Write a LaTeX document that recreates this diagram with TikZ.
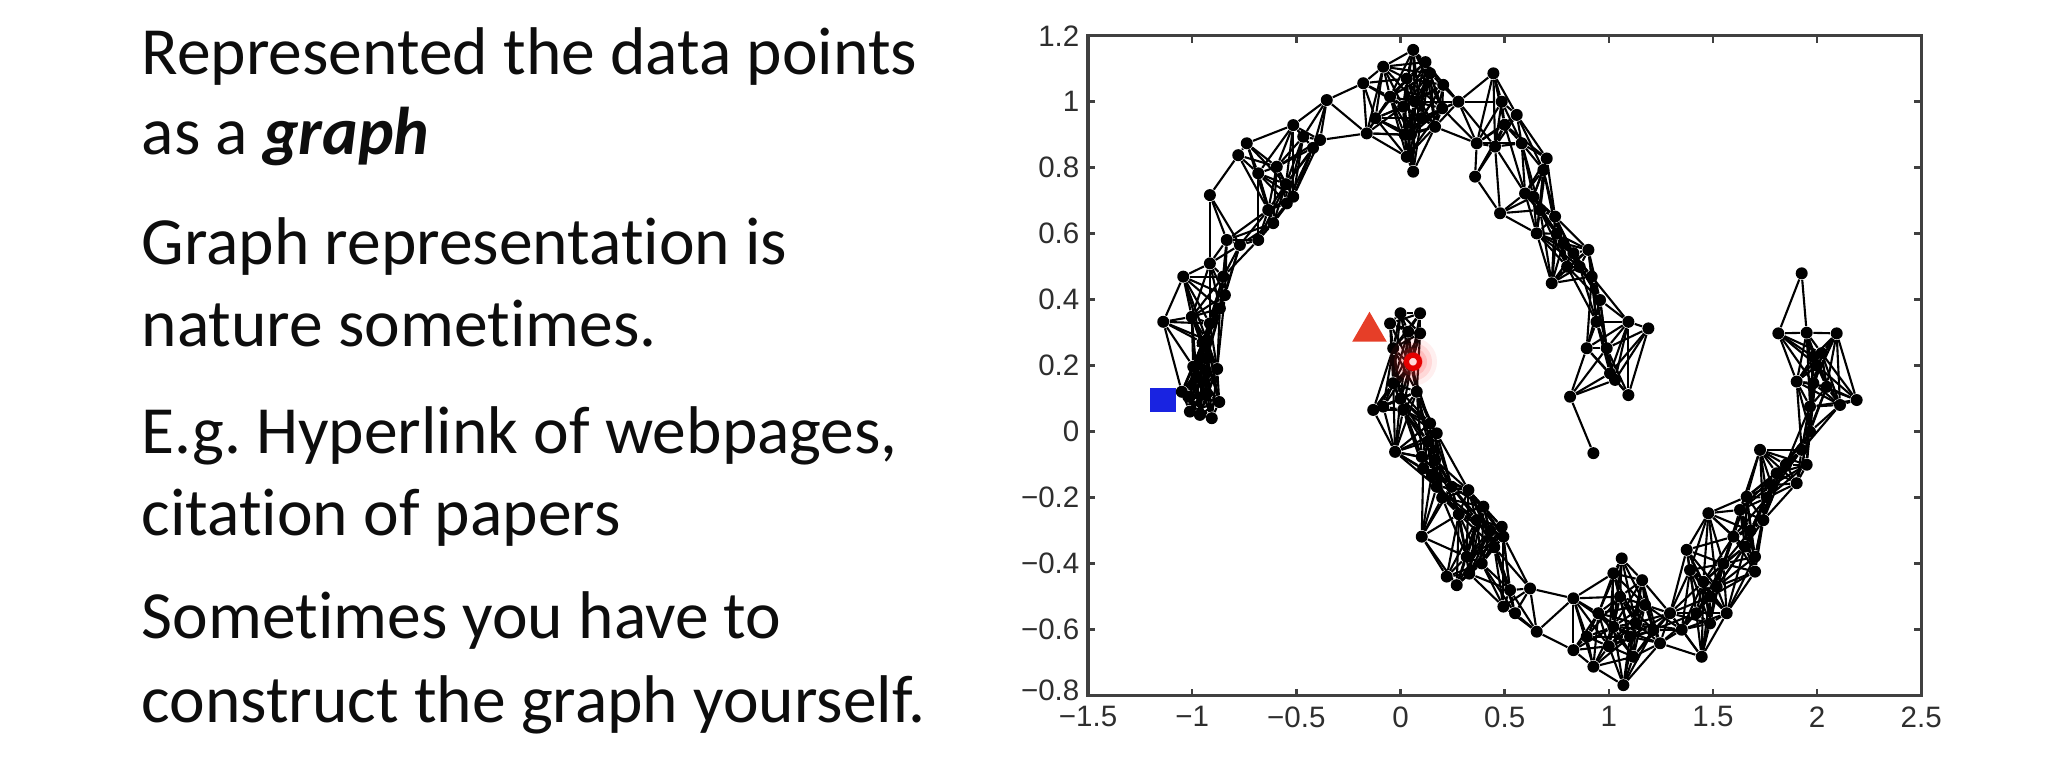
\documentclass[tikz,border=0pt]{standalone}
\usepackage{fontspec}
\setmainfont{Carlito}[Ligatures={NoCommon}]
\newfontfamily\axisfont{Liberation Sans}
\usetikzlibrary{shapes.geometric}
\definecolor{trired}{RGB}{230,62,40}
\definecolor{sqblue}{RGB}{25,35,225}
\frenchspacing
\tikzset{
  dot/.style={circle, fill=black, inner sep=0pt, minimum size=0.12cm},
  edge/.style={black, line width=0.6pt},
  txt/.style={anchor=base west, inner sep=0pt, text=black!95, font=\fontsize{19.2}{23.3}\selectfont},
  ticklab/.style={font=\axisfont\fontsize{8.4}{10}\selectfont, inner sep=0pt, text=black!82},
  frame/.style={draw=black!75, line width=0.9pt},
  tickmark/.style={draw=black!75, line width=0.7pt},
}
\newcommand\makemoon[3]{%
  \foreach \xx/\yy [count=\i] in {#3} {
    \node[dot] (#1\i) at (\xx,\yy) {};
    \expandafter\xdef\csname #1x\i\endcsname{\xx}%
    \expandafter\xdef\csname #1y\i\endcsname{\yy}%
    \xdef\nmoon{\i}%
  }
  \foreach \i in {1,...,\nmoon} {
    \foreach \k in {1,...,12} {
      \pgfmathtruncatemacro\j{\i+\k}
      \ifnum\j>\nmoon\relax\else
        \edef\xa{\csname #1x\i\endcsname}%
        \edef\ya{\csname #1y\i\endcsname}%
        \edef\xb{\csname #1x\j\endcsname}%
        \edef\yb{\csname #1y\j\endcsname}%
        \pgfmathsetmacro\dd{veclen((\xa)-(\xb),(\ya)-(\yb))}%
        \ifdim\dd pt<#2pt \draw[edge] (#1\i) -- (#1\j);\fi
      \fi
    }
  }
}
\begin{document}
\begin{tikzpicture}
\useasboundingbox[fill=white] (0,0) rectangle (20.48,-7.64);
% left text
\node[txt] (l1) at (1.41,-0.74) {Represented the data points};
\node[txt] (l2) at (1.41,-1.54) {as a \textbf{\textit{graph}}};
\node[txt] (l3) at (1.41,-2.64) {Graph representation is};
\node[txt] (l4) at (1.41,-3.46) {nature sometimes.};
\node[txt] (l5) at (1.41,-4.53) {E.g. Hyperlink of webpages,};
\node[txt] (l6) at (1.41,-5.35) {citation of papers};
\node[txt] (l7) at (1.41,-6.38) {Sometimes you have to};
\node[txt] (l8) at (1.41,-7.22) {construct the graph yourself.};
% plot
\begin{scope}[shift={(14.005,-4.317)}, x=2.083cm, y=3.3cm]
  \draw[frame] (-1.5,-0.8) rectangle (2.5,1.2);
  \foreach \t in {-1,-0.5,0,0.5,1,1.5,2} {
    \draw[tickmark] (\t,-0.8) -- ++(0,0.07cm);
    \draw[tickmark] (\t,1.2) -- ++(0,-0.07cm);
  }
  \foreach \t in {-0.6,-0.4,-0.2,0,0.2,0.4,0.6,0.8,1} {
    \draw[tickmark] (-1.5,\t) -- ++(0.07cm,0);
    \draw[tickmark] (2.5,\t) -- ++(-0.07cm,0);
  }
  \foreach \t/\lab in {-1.5/−1.5,-1/−1,-0.5/−0.5,0/0,0.5/0.5,1/1,1.5/1.5,2/2,2.5/2.5}
    \node[ticklab, anchor=north] (xl\t) at ([yshift=-0.1cm]\t,-0.8) {\lab};
  \foreach \t/\lab in {-0.6/−0.6,-0.4/−0.4,-0.2/−0.2,0/0,0.2/0.2,0.4/0.4,0.6/0.6,0.8/0.8,1/1,1.2/1.2}
    \node[ticklab, anchor=east] (yl\t) at ([xshift=-0.08cm]-1.5,\t) {\lab};
  \node[ticklab, anchor=east] (ylm8) at ([xshift=-0.08cm,yshift=0.05cm]-1.5,-0.8) {−0.8};
  % markers under graph
  \node[rectangle, fill=sqblue, minimum width=0.26cm, minimum height=0.24cm, inner sep=0pt] (sq) at (-1.14,0.097) {};
  \node[regular polygon, regular polygon sides=3, fill=trired, inner sep=0pt, minimum size=0.4cm] (tri) at (-0.149,0.303) {};
  % upper moon
  \makemoon{u}{0.23}{-0.906/0.041, -0.963/0.051, -1.011/0.061, -0.87/0.09, -1.019/0.106, -1.05/0.121, -0.930/0.116, -0.978/0.167, -0.88/0.19, -0.995/0.197, -0.930/0.222, -0.95/0.27, -0.930/0.278, -0.915/0.328, -1.002/0.348, -1.139/0.333, -0.867/0.374, -0.843/0.414, -1.043/0.470, -0.851/0.470, -0.915/0.510, -0.834/0.581, -0.771/0.566, -0.683/0.581, -0.611/0.632, -0.915/0.717, -0.635/0.672, -0.546/0.692, -0.515/0.712, -0.55/0.75, -0.683/0.783, -0.594/0.803, -0.779/0.838, -0.738/0.874, -0.42/0.86, -0.515/0.929, -0.467/0.894, -0.386/0.884, -0.354/1.005, -0.179/1.056, -0.162/0.904, -0.12/0.95, -0.083/1.106, -0.05/1.015, 0.013/0.985, 0.03/1.07, 0.061/1.157, 0.07/1.0, 0.02/0.9, 0.05/0.9, 0.03/0.833, 0.061/0.788, 0.1/0.95, 0.12/1.12, 0.142/1.086, 0.205/1.051, 0.166/0.924, 0.2/0.98, 0.278/1.0, 0.446/1.086, 0.486/1.0, 0.5/0.93, 0.558/0.96, 0.366/0.874, 0.454/0.864, 0.582/0.874, 0.358/0.773, 0.702/0.828, 0.686/0.793, 0.598/0.722, 0.638/0.712, 0.478/0.662, 0.670/0.672, 0.654/0.601, 0.742/0.652, 0.75/0.6, 0.782/0.571, 0.830/0.541, 0.8/0.5, 0.86/0.5, 0.902/0.551, 0.726/0.450, 0.918/0.470, 0.958/0.399, 0.941/0.333, 1.094/0.333, 1.190/0.313, 0.894/0.253, 0.99/0.253, 1.006/0.177, 1.03/0.157, 0.814/0.106, 1.094/0.111, 0.926/-0.065}
  % lower moon
  \makemoon{w}{0.23}{0/0.359, 0.094/0.359, -0.05/0.328, 0.037/0.303, 0.094/0.298, -0.035/0.253, 0.05/0.2, -0.035/0.147, 0.078/0.121, 0.0/0.1, -0.083/0.076, -0.131/0.066, 0.013/0.066, 0.142/0.025, 0.174/-0.005, 0.13/-0.03, -0.026/-0.061, 0.102/-0.076, 0.166/-0.086, 0.109/-0.111, 0.15/-0.13, 0.174/-0.167, 0.246/-0.167, 0.2/-0.2, 0.326/-0.177, 0.28/-0.25, 0.102/-0.318, 0.398/-0.227, 0.366/-0.268, 0.43/-0.3, 0.486/-0.288, 0.494/-0.318, 0.45/-0.35, 0.318/-0.379, 0.390/-0.399, 0.33/-0.43, 0.222/-0.439, 0.270/-0.465, 0.526/-0.480, 0.622/-0.475, 0.494/-0.530, 0.55/-0.55, 0.654/-0.606, 0.830/-0.505, 0.830/-0.662, 0.894/-0.621, 0.95/-0.55, 0.926/-0.712, 1.062/-0.384, 1.022/-0.429, 1.054/-0.5, 1.022/-0.591, 1.0/-0.65, 1.102/-0.621, 1.174/-0.525, 1.16/-0.45, 1.13/-0.58, 1.118/-0.682, 1.070/-0.768, 1.214/-0.601, 1.294/-0.550, 1.246/-0.641, 1.35/-0.6, 1.374/-0.358, 1.390/-0.419, 1.454/-0.455, 1.42/-0.55, 1.446/-0.682, 1.518/-0.470, 1.486/-0.5, 1.566/-0.550, 1.486/-0.581, 1.55/-0.4, 1.478/-0.247, 1.598/-0.318, 1.630/-0.237, 1.654/-0.348, 1.68/-0.3, 1.702/-0.379, 1.702/-0.424, 1.662/-0.197, 1.742/-0.268, 1.76/-0.2, 1.782/-0.162, 1.806/-0.126, 1.726/-0.055, 1.85/-0.1, 1.902/-0.156, 1.95/-0.1, 1.926/-0.055, 1.966/0.0, 1.966/0.076, 1.902/0.152, 1.982/0.147, 2.046/0.136, 2.11/0.081, 2.190/0.096, 1.982/0.227, 2.0/0.2, 2.022/0.238, 1.814/0.298, 1.95/0.3, 2.094/0.298, 1.926/0.480}
  % red circle marker with glow
  \coordinate (rcc) at (0.06,0.212);
  \foreach \r/\o in {0.24/0.08, 0.19/0.12, 0.14/0.16, 0.10/0.2} \fill[red!80, opacity=\o] (rcc) circle (\r cm);
  \node[circle, draw=red!90!black, line width=1.5pt, fill=red!15, minimum size=0.13cm, inner sep=0pt] (rc) at (rcc) {};
\end{scope}
\end{tikzpicture}
\end{document}
